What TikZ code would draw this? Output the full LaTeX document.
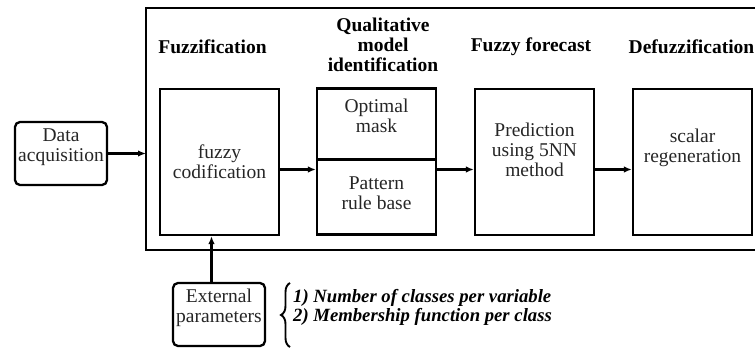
\documentclass[tikz,border=0pt]{standalone}
\usepackage{fontspec}
\setmainfont{Liberation Serif}
\usetikzlibrary{arrows.meta,decorations.pathreplacing}
\begin{document}
\begin{tikzpicture}[x=1pt,y=-1pt,line width=2.3pt,
  box/.style={draw,rectangle,minimum width=119pt,minimum height=146pt,inner sep=0pt},
  rbox/.style={draw,rectangle,rounded corners=5pt,minimum width=92pt,minimum height=63pt,inner sep=0pt},
  txt/.style={align=center,inner sep=0pt,font=\fontsize{19.5}{20}\selectfont,text=black!85},
  head/.style={align=center,inner sep=0pt,font=\fontsize{19.5}{20}\selectfont\bfseries},
  arr/.style={-{Latex[length=8pt,width=6.5pt]}}]
\useasboundingbox (0,0) rectangle (755,350);

% outer frame (open to the right)
\coordinate (frTR) at (756,8);
\coordinate (frTL) at (146,8);
\coordinate (frBL) at (146,250);
\coordinate (frBR) at (756,250);
\draw (frTR) -- (frTL) -- (frBL) -- (frBR);

% stage headings
\node[head] (h1) at (212.5,47) {Fuzzification};
\node[head] (h2) at (383,45) {Qualitative\\model\\identification};
\node[head] (h3) at (531,47) {Fuzzy forecast};
\node[head] (h4) at (691.5,47) {Defuzzification};

% blocks
\node[rbox] (data) at (61,153.5) {};
\node[txt] (dataT) at (61,147) {Data\\acquisition};

\node[box] (fuzzy) at (219.5,162) {};
\node[txt] (fuzzyT) at (219.5,161.5) {fuzzy\\codification};

\node[draw,rectangle,minimum width=119pt,minimum height=71pt,inner sep=0pt] (qualT) at (376.5,124) {};
\node[draw,rectangle,minimum width=119pt,minimum height=75pt,inner sep=0pt] (qualB) at (376.5,197) {};
\node[txt] (qualTT) at (376.5,116) {Optimal\\mask};
\node[txt] (qualBT) at (376.5,193) {Pattern\\rule base};

\node[box] (pred) at (534.5,162) {};
\node[txt] (predT) at (534.5,150) {Prediction\\using 5NN\\method};

\node[box] (scal) at (692.5,162) {};
\node[txt] (scalT) at (692.5,147.5) {scalar\\regeneration};

\node[rbox] (ext) at (219,314.5) {};
\node[txt] (extT) at (219,308) {External\\parameters};

% connectors
\draw[arr] (data.east) -- (data.east -| frTL);
\draw[arr] ([yshift=-7.5pt]fuzzy.east) -- ([yshift=-7.5pt]fuzzy.east -| qualB.west);
\draw[arr] ([yshift=-7.5pt]fuzzy.east -| qualB.east) -- ([yshift=-7.5pt]pred.west);
\draw[arr] ([yshift=-7.5pt]pred.east) -- ([yshift=-7.5pt]scal.west);
\draw[arr] ([xshift=-7.5pt]ext.north) -- ([xshift=-7.5pt]ext.north |- fuzzy.south);

% parameter list
\coordinate (brB) at (290,347);
\coordinate (brT) at (290,283);
\draw[line width=1.9pt,decorate,decoration={brace,amplitude=9pt}] (brB) -- (brT);
\node[anchor=west,inner sep=0pt,align=left,font=\fontsize{18.7}{19}\selectfont\bfseries\itshape] (items) at (292,307.5)
  {1) Number of classes per variable\\2) Membership function per class};
\end{tikzpicture}
\end{document}
